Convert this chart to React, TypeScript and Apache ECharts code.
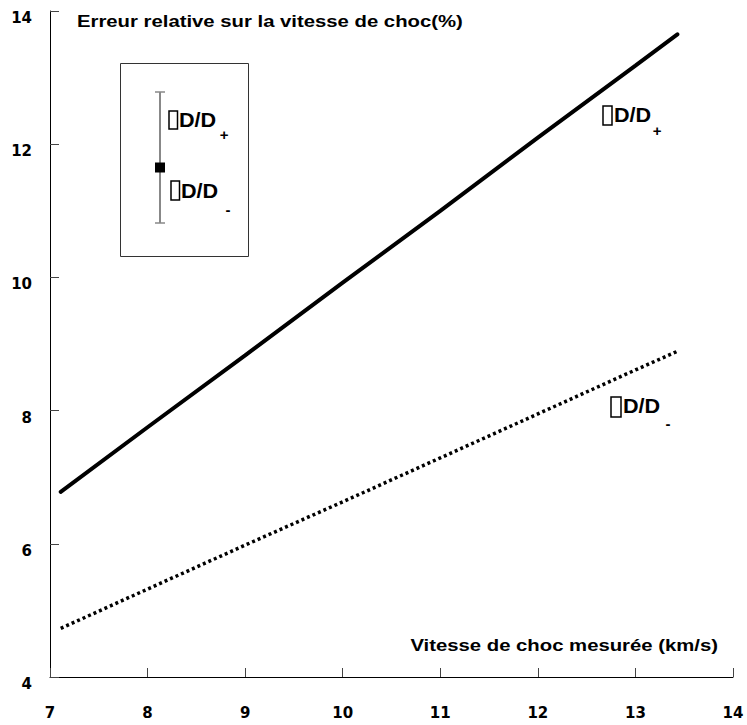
import React, { useEffect, useRef } from "react";
import * as echarts from "echarts";

const xValues = [7.11, 8, 9, 10, 11, 12, 13, 13.43];
const plusValues = [6.78, 7.75, 8.83, 9.92, 11.0, 12.1, 13.18, 13.65];
const minusValues = [4.73, 5.32, 5.98, 6.63, 7.29, 7.95, 8.61, 8.89];

const titleText = "Erreur relative sur la vitesse de choc(%)";
const xNameText = "Vitesse de choc mesurée (km/s)";
const labelMain = "D/D";

const FONT = "Liberation Sans";
const AXFONT = "DejaVu Sans";

function labelGroup(bx: number, by: number, bw: number, bh: number, tx: number, ty: number, sx: number, sy: number, sub: string) {
  return [
    { type: "rect", shape: { x: bx, y: by, width: bw, height: bh }, style: { fill: "none", stroke: "#000", lineWidth: 1.5 } },
    { type: "text", x: tx, y: ty, scaleX: 1.08, style: { text: labelMain, fontSize: 20, fontWeight: "bold", fontFamily: FONT, fill: "#000", verticalAlign: "middle", align: "left" } },
    { type: "text", x: sx, y: sy, style: { text: sub, fontSize: 15, fontWeight: "bold", fontFamily: FONT, fill: "#000", verticalAlign: "middle", align: "center" } },
  ];
}

const axisRich = { a: { fontSize: 15, fontWeight: "bold", fontFamily: AXFONT, color: "#000" } };

export default function App() {
  const ref = useRef<HTMLDivElement>(null);
  useEffect(() => {
    document.body.style.margin = "0";
    const chart = echarts.init(ref.current!, null, { renderer: "svg" });
    const option: any = {
      animation: false,
      backgroundColor: "#fff",
      grid: { left: 50, right: 14, top: 11, bottom: 48 },
      xAxis: {
        type: "value",
        min: 7,
        max: 14,
        interval: 1,
        axisLine: { show: true, onZero: false, lineStyle: { color: "#000", width: 1 } },
        axisTick: { show: true, inside: true, length: 9, lineStyle: { color: "#444" } },
        axisLabel: {
          show: true,
          color: "#000",
          fontWeight: "bold",
          fontSize: 15,
          fontFamily: AXFONT,
          margin: 28,
          formatter: "{a|{value}}",
          rich: axisRich,
        },
        splitLine: { show: false },
      },
      yAxis: {
        type: "value",
        min: 4,
        max: 14,
        interval: 2,
        axisLine: { show: true, onZero: false, lineStyle: { color: "#000", width: 1 } },
        axisTick: { show: true, inside: true, length: 9, lineStyle: { color: "#444" } },
        axisLabel: {
          show: true,
          color: "#000",
          fontWeight: "bold",
          fontSize: 15,
          fontFamily: AXFONT,
          margin: 18,
          padding: [14, 0, 0, 0],
          formatter: "{a|{value}}",
          rich: axisRich,
        },
        splitLine: { show: false },
      },
      series: [
        {
          type: "line",
          data: xValues.map((x, i) => [x, plusValues[i]]),
          showSymbol: false,
          lineStyle: { color: "#000", width: 4, cap: "round" },
        },
        {
          type: "line",
          data: xValues.map((x, i) => [x, minusValues[i]]),
          showSymbol: false,
          lineStyle: { color: "#000", width: 3.5, type: [3, 3], cap: "butt" },
        },
      ],
      graphic: [
        { type: "text", x: 77, y: 21, scaleX: 1.27, style: { text: titleText, fontSize: 16, fontWeight: "bold", fontFamily: FONT, fill: "#000", verticalAlign: "middle" } },
        { type: "text", x: 718, y: 645, scaleX: 1.27, style: { text: xNameText, fontSize: 16, fontWeight: "bold", fontFamily: FONT, fill: "#000", verticalAlign: "middle", align: "right" } },
        { type: "rect", shape: { x: 120.5, y: 63.5, width: 128, height: 193 }, style: { fill: "none", stroke: "#333", lineWidth: 1 } },
        { type: "line", shape: { x1: 160, y1: 92, x2: 160, y2: 223 }, style: { stroke: "#888", lineWidth: 2 } },
        { type: "line", shape: { x1: 155, y1: 92, x2: 165, y2: 92 }, style: { stroke: "#888", lineWidth: 1.5 } },
        { type: "line", shape: { x1: 155, y1: 223, x2: 165, y2: 223 }, style: { stroke: "#888", lineWidth: 1.5 } },
        { type: "rect", shape: { x: 155, y: 162.5, width: 10, height: 10 }, style: { fill: "#000" } },
        ...labelGroup(169, 111, 8.5, 18, 179, 119.5, 224, 134, "+"),
        ...labelGroup(171, 181, 8.5, 19, 181, 190.5, 228, 209, "-"),
        ...labelGroup(603, 106, 9, 19, 614, 115, 657, 130, "+"),
        ...labelGroup(611, 397, 10, 20, 623, 406, 668, 423, "-"),
      ],
    };
    chart.setOption(option);
    return () => chart.dispose();
  }, []);
  return <div ref={ref} style={{ width: 747, height: 725 }} />;
}
